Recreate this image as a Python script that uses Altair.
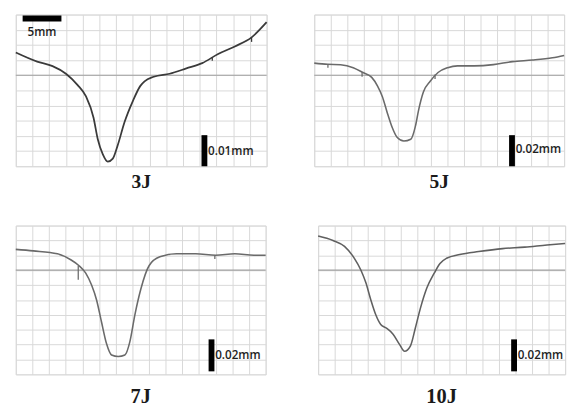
import altair as alt
import pandas as pd

# ---- data (x and y in grid divisions) ----
P1_X = [0, 1.28, 2.2, 3.0, 3.7, 4.2, 4.65, 4.9, 5.2, 5.5, 5.8, 6.1, 6.5, 7.0, 7.45, 7.7, 8.25, 9.2, 10.2, 11.15, 12.1, 13.1, 14.1, 15]
P1_Y = [7.5, 6.9, 6.6, 6.1, 5.35, 4.6, 3.2, 1.8, 0.8, 0.3, 0.5, 1.4, 2.9, 4.3, 5.3, 5.6, 5.9, 6.1, 6.45, 6.8, 7.4, 7.9, 8.5, 9.5]

P2_X = [0, 0.8, 1.58, 2.34, 2.92, 3.45, 3.8, 4.09, 4.39, 4.68, 4.97, 5.38, 5.79, 6.08, 6.26, 6.55, 6.96, 7.43, 8.01, 8.6, 9.6, 10.75, 11.9, 13.1, 14.3, 15]
P2_Y = [6.8, 6.72, 6.69, 6.5, 6.18, 5.86, 5.29, 4.59, 3.5, 2.55, 1.91, 1.66, 1.78, 2.68, 3.69, 4.9, 5.6, 6.18, 6.5, 6.62, 6.62, 6.7, 6.9, 7.0, 7.15, 7.3]

P3_X = [0, 1.05, 2.5, 3.3, 3.8, 4.2, 4.55, 4.85, 5.15, 5.45, 5.75, 6.15, 6.55, 6.85, 7.15, 7.5, 8.0, 8.65, 9.65, 10.8, 12.0, 13.15, 14.3, 15]
P3_Y = [8.4, 8.3, 8.1, 7.7, 7.3, 6.8, 6.0, 5.0, 3.5, 2.05, 1.3, 1.2, 1.3, 2.2, 4.0, 5.7, 7.3, 7.9, 8.1, 8.1, 8.0, 8.1, 8.0, 8.0]

P4_X = [0, 0.9, 1.6, 2.2, 2.6, 2.9, 3.2, 3.5, 3.8, 4.15, 4.55, 4.95, 5.25, 5.6, 5.9, 6.2, 6.6, 7.05, 7.4, 7.8, 8.6, 9.75, 11.2, 12.55, 13.9, 15]
P4_Y = [9.3, 9.0, 8.6, 7.8, 7.0, 6.15, 5.0, 4.0, 3.35, 3.1, 2.7, 2.0, 1.55, 1.9, 3.1, 4.4, 5.8, 6.8, 7.45, 7.8, 8.05, 8.25, 8.45, 8.55, 8.7, 8.8]

# small spikes on the traces: panel index, x, y top, y bottom
SPIKE_PANEL = [0, 0, 1, 1, 1, 2, 2]
SPIKE_X = [11.75, 14.1, 0.82, 2.87, 7.25, 3.75, 11.95]
SPIKE_Y1 = [7.2, 8.5, 6.75, 6.2, 6.05, 7.3, 8.0]
SPIKE_Y2 = [6.95, 8.2, 6.5, 5.9, 5.75, 6.35, 7.75]

LABELS = ["3J", "5J", "7J", "10J"]
BASELINES = [6, 6, 7, 7]
VBAR_X = [11.28, 11.87, 11.75, 11.9]
VBAR_Y0 = [0, 0, 0.2, 0.2]
VBAR_Y1 = [2.05, 2.05, 2.35, 2.35]
VBAR_TEXT = ["0.01mm", "0.02mm", "0.02mm", "0.02mm"]
VBAR_TEXT_Y = [0.97, 1.1, 1.3, 1.3]
HBAR = {"x": 0.41, "x2": 2.73, "y": 9.74, "text": "5mm", "tx": 0.7, "ty": 8.85}

GRID_X = list(range(16))
GRID_Y = list(range(11))


def panel(xs, ys, i, width, height, color, sw, tsize, toffset):
    xscale = alt.Scale(domain=[0, 15], nice=False, zero=False)
    yscale = alt.Scale(domain=[0, 10], nice=False, zero=False)
    ax = alt.Axis(values=GRID_X, grid=True, labels=False, ticks=False, domain=False,
                  title=None, gridColor="#d8d8d8", gridWidth=1, minExtent=0, maxExtent=0, offset=0)
    ay = alt.Axis(values=GRID_Y, grid=True, labels=False, ticks=False, domain=False,
                  title=None, gridColor="#d8d8d8", gridWidth=1, minExtent=0, maxExtent=0, offset=0)

    def X(f="x"):
        return alt.X(f + ":Q", scale=xscale, axis=ax)

    def Y(f="y"):
        return alt.Y(f + ":Q", scale=yscale, axis=ay)

    df = pd.DataFrame({"x": xs, "y": ys})
    line = alt.Chart(df).mark_line(color=color, strokeWidth=sw, interpolate="monotone").encode(x=X(), y=Y())
    base = alt.Chart(pd.DataFrame({"y": [BASELINES[i]]})).mark_rule(
        color="#a0a0a0", strokeWidth=1.2).encode(y=Y())
    vb = alt.Chart(pd.DataFrame({"x": [VBAR_X[i]], "y": [VBAR_Y0[i]], "y2": [VBAR_Y1[i]]})).mark_rule(
        color="black", strokeWidth=6, strokeCap="butt").encode(x=X(), y=Y(), y2="y2:Q")
    vt = alt.Chart(pd.DataFrame({"x": [VBAR_X[i] + 0.22], "y": [VBAR_TEXT_Y[i]], "t": [VBAR_TEXT[i]]})).mark_text(
        align="left", baseline="middle", font="Open Sans", fontSize=12, fontWeight=600, color="#1e1e1e"
    ).encode(x=X(), y=Y(), text="t:N")
    layers = [base, line, vb, vt]
    sp = pd.DataFrame({"p": SPIKE_PANEL, "x": SPIKE_X, "y": SPIKE_Y1, "y2": SPIKE_Y2})
    sp = sp[sp["p"] == i]
    if len(sp):
        layers.append(alt.Chart(sp).mark_rule(color=color, strokeWidth=1.3).encode(x=X(), y=Y(), y2="y2:Q"))
    if i == 0:
        hb = alt.Chart(pd.DataFrame({"x": [HBAR["x"]], "x2": [HBAR["x2"]], "y": [HBAR["y"]]})).mark_rule(
            color="black", strokeWidth=6, strokeCap="butt").encode(x=X(), x2="x2:Q", y=Y())
        ht = alt.Chart(pd.DataFrame({"x": [HBAR["tx"]], "y": [HBAR["ty"]], "t": [HBAR["text"]]})).mark_text(
            align="left", baseline="middle", font="Open Sans", fontSize=12, fontWeight=600, color="#1e1e1e"
        ).encode(x=X(), y=Y(), text="t:N")
        layers += [hb, ht]
    return alt.layer(*layers).properties(
        width=width, height=height,
        title=alt.TitleParams(LABELS[i], orient="bottom", font="Liberation Serif", fontSize=tsize,
                              fontWeight="bold", color="#1a1a1a", offset=toffset, anchor="middle"),
    )


p1 = panel(P1_X, P1_Y, 0, 258, 156, "#3a3a3a", 1.8, 20, 3)
p2 = panel(P2_X, P2_Y, 1, 257, 156, "#6a6a6a", 1.6, 20, 3)
p3 = panel(P3_X, P3_Y, 2, 257, 153, "#6a6a6a", 1.6, 21, 12)
p4 = panel(P4_X, P4_Y, 3, 254, 153, "#606060", 1.6, 21, 12)

row1 = alt.hconcat(p1, p2, spacing=40)
row2 = alt.hconcat(p3, p4, spacing=46)
chart = alt.vconcat(row1, row2, spacing=33).properties(
    padding={"left": 3, "top": 0, "right": 0, "bottom": 0}
).configure_view(stroke=None).configure(background="white")

chart.save("out.html", embed_options={"renderer": "svg", "actions": False})
